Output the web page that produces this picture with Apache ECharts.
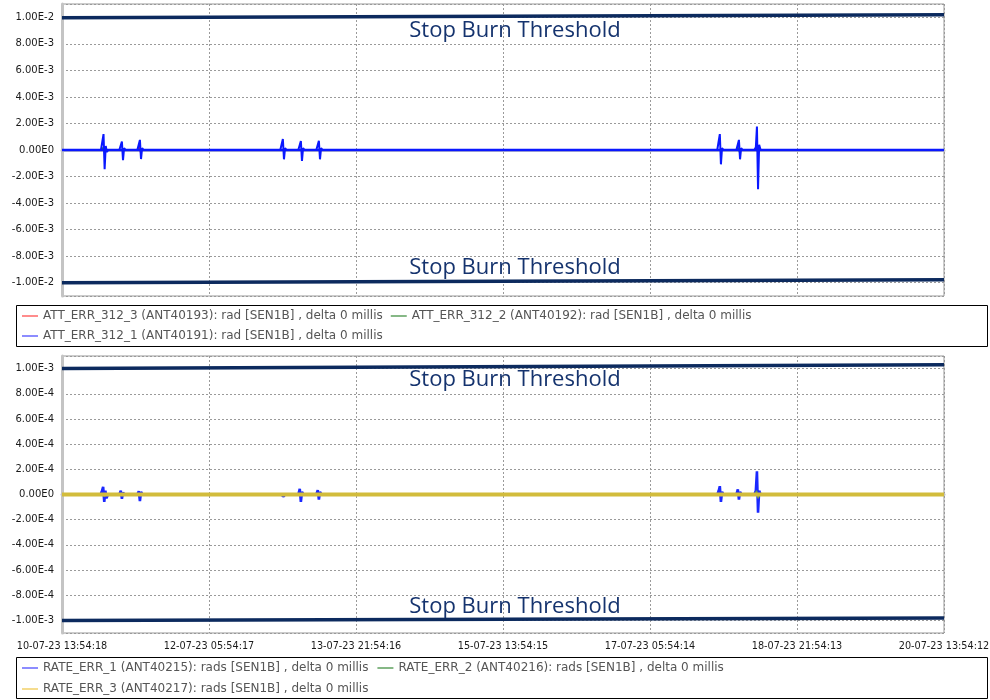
<!DOCTYPE html>
<html><head><meta charset="utf-8">
<script src="https://cdn.jsdelivr.net/npm/echarts@6/dist/echarts.min.js"></script>
<style>html,body{margin:0;padding:0;background:#fff}#c{width:990px;height:700px}</style>
</head><body><div id="c"></div>
<script>
// x values are hours since 10-07-23 13:54:18
const xTickLabels = ['10-07-23 13:54:18','12-07-23 05:54:17','13-07-23 21:54:16','15-07-23 13:54:15','17-07-23 05:54:14','18-07-23 21:54:13','20-07-23 13:54:12'];
const xTickStep = 40;
const xMax = 240;

const attNames = ['ATT_ERR_312_3 (ANT40193): rad [SEN1B] , delta 0 millis','ATT_ERR_312_2 (ANT40192): rad [SEN1B] , delta 0 millis','ATT_ERR_312_1 (ANT40191): rad [SEN1B] , delta 0 millis'];
const rateNames = ['RATE_ERR_1 (ANT40215): rads [SEN1B] , delta 0 millis','RATE_ERR_2 (ANT40216): rads [SEN1B] , delta 0 millis','RATE_ERR_3 (ANT40217): rads [SEN1B] , delta 0 millis'];

// all series sit on zero between the bursts
const baseline = [[0,0],[240,0]];
// burst samples (null separates bursts)
const att3 = [[20.6,0],[21.0,0.3e-3],[21.4,-0.2e-3],[21.8,0],null,[188.6,0],[189.0,0.3e-3],[189.4,-0.3e-3],[189.8,0]];
const att2 = [[10.8,0],[11.2,0.2e-3],[11.6,-0.2e-3],[12.0,0],null,[183.6,0],[184.0,0.2e-3],[184.4,-0.2e-3],[184.8,0]];
const att1 = [[10.6,0],[11.0,0.15e-3],[11.3,1.2e-3],[11.6,-1.45e-3],[11.9,0.3e-3],[12.2,-0.15e-3],[12.6,0],null,
 [15.6,0],[16.0,0.15e-3],[16.3,0.63e-3],[16.6,-0.76e-3],[16.9,0.15e-3],[17.3,0],null,
 [20.5,0],[20.9,0.15e-3],[21.2,0.76e-3],[21.5,-0.68e-3],[21.8,0.15e-3],[22.2,0],null,
 [59.4,0],[59.8,0.15e-3],[60.1,0.83e-3],[60.4,-0.7e-3],[60.7,0.15e-3],[61.1,0],null,
 [64.3,0],[64.7,0.15e-3],[65.0,0.68e-3],[65.3,-0.83e-3],[65.6,0.15e-3],[66.0,0],null,
 [69.2,0],[69.6,0.15e-3],[69.9,0.7e-3],[70.2,-0.7e-3],[70.5,0.15e-3],[70.9,0],null,
 [178.3,0],[178.7,0.15e-3],[179.0,1.2e-3],[179.3,-1.08e-3],[179.6,0.15e-3],[180.0,0],null,
 [183.5,0],[183.9,0.15e-3],[184.2,0.76e-3],[184.5,-0.7e-3],[184.8,0.15e-3],[185.2,0],null,
 [188.4,0],[188.8,0.2e-3],[189.1,1.77e-3],[189.4,-2.95e-3],[189.7,0.4e-3],[190.1,0]];

const rate1 = [[10.5,0],[10.9,0.3e-4],[11.2,0.61e-4],[11.5,-0.58e-4],[11.8,0.3e-4],[12.1,-0.3e-4],[12.5,0],null,
 [15.6,0],[16.0,0.3e-4],[16.3,-0.34e-4],[16.6,0.15e-4],[17.0,0],null,
 [20.5,0],[20.9,0.26e-4],[21.2,-0.53e-4],[21.5,0.2e-4],[21.9,0],null,
 [59.6,0],[60.0,0.15e-4],[60.3,-0.15e-4],[60.7,0],null,
 [64.3,0],[64.7,0.45e-4],[65.0,-0.58e-4],[65.3,0.2e-4],[65.7,0],null,
 [69.2,0],[69.6,0.34e-4],[69.9,-0.4e-4],[70.2,0.2e-4],[70.6,0],null,
 [178.3,0],[178.7,0.3e-4],[179.0,0.66e-4],[179.3,-0.58e-4],[179.6,0.2e-4],[180.0,0],null,
 [183.5,0],[183.9,0.4e-4],[184.2,-0.4e-4],[184.5,0.2e-4],[184.9,0],null,
 [188.4,0],[188.8,0.3e-4],[189.1,1.85e-4],[189.4,-1.45e-4],[189.7,0.3e-4],[190.1,0]];
const rate2 = [[10.8,0],[11.2,0.15e-4],[11.6,-0.15e-4],[12.0,0],null,[188.6,0],[189.0,0.3e-4],[189.4,-0.3e-4],[189.8,0]];
const rate3 = [];

const thrAttUpper = [[0,0.00996],[240,0.01019]];
const thrAttLower = [[0,-0.01],[240,-0.00977]];
const thrRateUpper = [[0,0.001],[240,0.00103]];
const thrRateLower = [[0,-0.001],[240,-0.00098]];
const thresholdText = 'Stop Burn Threshold';

function sci(v){
  if (Math.abs(v) < 1e-12) return '0.00E0';
  return v.toExponential(2).replace('e','E').replace('+','');
}
const navy = '#0c2a5e';
function xAxis(gi, showLabels){
  return {type:'value', gridIndex:gi, min:0, max:xMax, interval:xTickStep,
    axisLine:{show:true, lineStyle:{color:'#c4c4c4', width:3}},
    axisTick:{show:false},
    axisLabel:{show:showLabels, color:'#1a1a1a', fontSize:9.7, fontFamily:'DejaVu Sans', margin:8,
      formatter:function(v){ return xTickLabels[Math.round(v/xTickStep)] || ''; }},
    splitLine:{show:true, lineStyle:{color:'#9a9a9a', type:[2,2], width:1}}};
}
function yAxis(gi, lim){
  return {type:'value', gridIndex:gi, min:-lim, max:lim, splitNumber:11,
    axisLine:{show:true, lineStyle:{color:'#c4c4c4', width:3}},
    axisTick:{show:false},
    axisLabel:{color:'#1a1a1a', fontSize:10, fontFamily:'DejaVu Sans', margin:8, showMinLabel:false, showMaxLabel:false, formatter:sci},
    splitLine:{show:true, lineStyle:{color:'#9a9a9a', type:[2,2], width:1}}};
}
function ser(name, data, xi, color, legendColor, width, z){
  return {name:name, type:'line', xAxisIndex:xi, yAxisIndex:xi, data:data, showSymbol:false, silent:true, connectNulls:false,
    itemStyle:{color:legendColor}, lineStyle:{color:color, width:width}, z:z};
}
function thr(data, xi){
  return {type:'line', xAxisIndex:xi, yAxisIndex:xi, data:data, showSymbol:false, silent:true,
    lineStyle:{color:navy, width:3.5}, z:10};
}
const legendText = {color:'#555', fontSize:12, fontFamily:'DejaVu Sans'};
const thrFont = '22px "Open Sans"';
const thrColor = '#15336e';
// [line colour, legend colour, baseline width, burst width]
const attStyle = [['#ff2020','#ff8c8c',1.5,1.5],['#2a9a2a','#86b886',1.5,1.5],['#0a18ff','#8c8cff',2.5,2]];
const rateStyle = [['#1a28ff','#8c8cff',2,2.6],['#6a9a5a','#86b886',1.5,1.5],['#d2bc3c','#f5dc8e',4,2]];
const attData = [att3, att2, att1];
const rateData = [rate1, rate2, rate3];
const series = [];
attNames.forEach(function(n,i){
  series.push(ser(n, baseline, 0, attStyle[i][0], attStyle[i][1], attStyle[i][2], 2+i));
  series.push(ser(n, attData[i], 0, attStyle[i][0], attStyle[i][1], attStyle[i][3], 2+i));
});
rateNames.forEach(function(n,i){
  series.push(ser(n, baseline, 1, rateStyle[i][0], rateStyle[i][1], rateStyle[i][2], 2+i));
  series.push(ser(n, rateData[i], 1, rateStyle[i][0], rateStyle[i][1], rateStyle[i][3], 2+i));
});
series.push(thr(thrAttUpper,0), thr(thrAttLower,0), thr(thrRateUpper,1), thr(thrRateLower,1));

const option = {
  animation:false,
  backgroundColor:'#fff',
  grid:[{left:62, right:46, top:4, height:292, show:true, borderColor:'#999', borderWidth:1, outerBoundsMode:'none', containLabel:false},
        {left:62, right:46, top:356, height:277, show:true, borderColor:'#999', borderWidth:1, outerBoundsMode:'none', containLabel:false}],
  xAxis:[xAxis(0,false), xAxis(1,true)],
  yAxis:[yAxis(0,0.011), yAxis(1,0.0011)],
  legend:[
    {left:22, top:310, padding:0, orient:'horizontal', icon:'rect', itemWidth:16, itemHeight:2, itemGap:8, textStyle:legendText, selectedMode:false,
     data:[{name:attNames[0], itemStyle:{color:'#ff8c8c'}},{name:attNames[1], itemStyle:{color:'#86b886'}},'',{name:attNames[2], itemStyle:{color:'#8c8cff'}}]},
    {left:22, top:662, padding:0, orient:'horizontal', icon:'rect', itemWidth:16, itemHeight:2, itemGap:9, textStyle:legendText, selectedMode:false,
     data:[{name:rateNames[0], itemStyle:{color:'#8c8cff'}},{name:rateNames[1], itemStyle:{color:'#86b886'}},'',{name:rateNames[2], itemStyle:{color:'#f5dc8e'}}]}
  ],
  series:series,
  graphic:[
    {type:'rect', shape:{x:16.5,y:305.5,width:971,height:41}, style:{fill:null, stroke:'#000', lineWidth:1}, silent:true},
    {type:'rect', shape:{x:16.5,y:657.5,width:971,height:41}, style:{fill:null, stroke:'#000', lineWidth:1}, silent:true},
    {type:'text', x:515, y:31, style:{text:thresholdText, fill:thrColor, font:thrFont, textAlign:'center', textVerticalAlign:'middle'}, z:20},
    {type:'text', x:515, y:268, style:{text:thresholdText, fill:thrColor, font:thrFont, textAlign:'center', textVerticalAlign:'middle'}, z:20},
    {type:'text', x:515, y:380, style:{text:thresholdText, fill:thrColor, font:thrFont, textAlign:'center', textVerticalAlign:'middle'}, z:20},
    {type:'text', x:515, y:607, style:{text:thresholdText, fill:thrColor, font:thrFont, textAlign:'center', textVerticalAlign:'middle'}, z:20}
  ]
};
const chart = echarts.init(document.getElementById('c'), null, {renderer:'canvas'});
chart.setOption(option);
</script></body></html>
